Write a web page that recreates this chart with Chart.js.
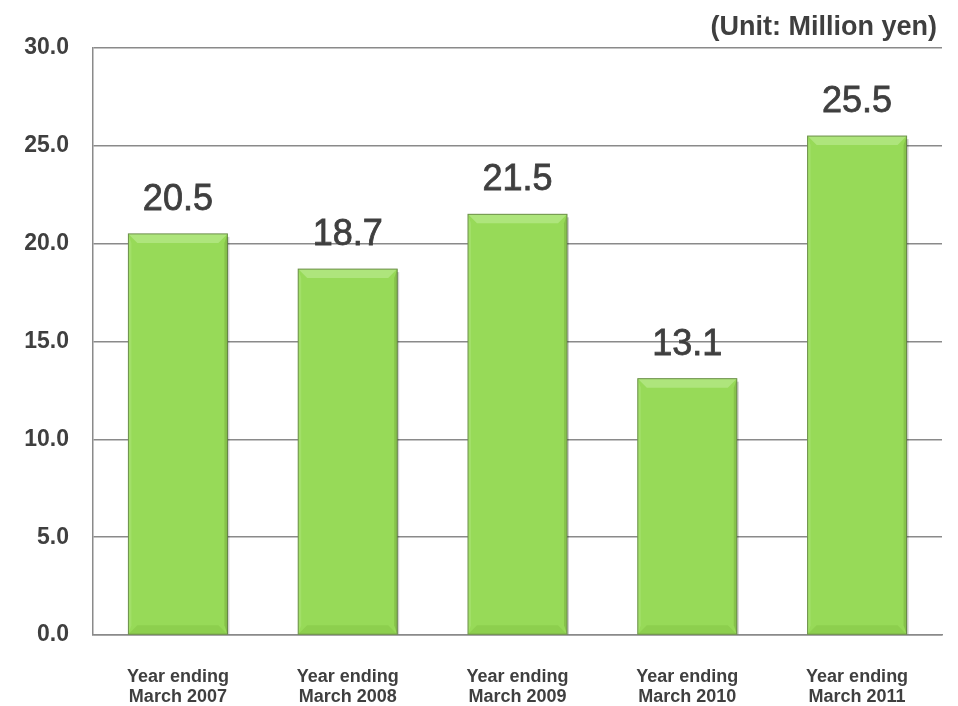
<!DOCTYPE html>
<html>
<head>
<meta charset="utf-8">
<script src="https://cdn.jsdelivr.net/npm/chart.js@4.4.0/dist/chart.umd.min.js"></script>
<style>
  html, body { margin: 0; padding: 0; background: #ffffff; }
  #wrap { position: relative; width: 958px; height: 706px; }
</style>
</head>
<body>
<div id="wrap"><canvas id="grafico" width="958" height="706"></canvas></div>
<script>
// dados do grafico
const categorias = [
    ["Year ending", "March 2007"],
    ["Year ending", "March 2008"],
    ["Year ending", "March 2009"],
    ["Year ending", "March 2010"],
    ["Year ending", "March 2011"]
];
const valores = [20.5, 18.7, 21.5, 13.1, 25.5];
const tickLabels = ["0.0", "5.0", "10.0", "15.0", "20.0", "25.0", "30.0"];
const unidade = "(Unit: Million yen)";

const corTexto = '#3f3f3f';

function trapezio(ctx, pts, cor) {
    ctx.beginPath();
    ctx.moveTo(pts[0][0], pts[0][1]);
    for (let i = 1; i < pts.length; i++) ctx.lineTo(pts[i][0], pts[i][1]);
    ctx.closePath();
    ctx.fillStyle = cor;
    ctx.fill();
}

// efeito chanfrado nas barras
const chanfroPlugin = {
    id: 'chanfro',
    afterDatasetsDraw(chart) {
        const ctx = chart.ctx;
        const meta = chart.getDatasetMeta(0);
        const b = 9;
        ctx.save();
        meta.data.forEach(function (bar) {
            const l = bar.x - bar.width / 2, r = bar.x + bar.width / 2;
            const t = bar.y, bt = bar.base;
            trapezio(ctx, [[l, t], [r, t], [r - b, t + b], [l + b, t + b]], '#aee57c');
            trapezio(ctx, [[l, bt], [r, bt], [r - b, bt - b], [l + b, bt - b]], '#8dcf4e');
            trapezio(ctx, [[l, t], [l + 3, t + b], [l + 3, bt - b], [l, bt]], '#a2df69');
            trapezio(ctx, [[r, t], [r - 3, t + b], [r - 3, bt - b], [r, bt]], '#86c24a');
            ctx.strokeStyle = '#6c8f4a';
            ctx.lineWidth = 1;
            ctx.strokeRect(l, t, r - l, bt - t);
            ctx.fillStyle = 'rgba(0,0,0,0.18)';
            ctx.fillRect(r, t + 3, 2, bt - t - 3);
        });
        ctx.restore();
    }
};

// rotulos de valor acima das barras + unidade
const rotulosPlugin = {
    id: 'rotulos',
    afterDatasetsDraw(chart) {
        const ctx = chart.ctx;
        const meta = chart.getDatasetMeta(0);
        ctx.save();
        ctx.fillStyle = corTexto;
        ctx.strokeStyle = corTexto;
        ctx.lineWidth = 0.8;
        ctx.font = '36px "Liberation Sans", Arial, sans-serif';
        ctx.textAlign = 'center';
        ctx.textBaseline = 'alphabetic';
        meta.data.forEach(function (bar, i) {
            const txt = valores[i].toFixed(1);
            ctx.fillText(txt, bar.x, bar.y - 24);
            ctx.strokeText(txt, bar.x, bar.y - 24);
        });
        ctx.font = 'bold 27px "Liberation Sans", Arial, sans-serif';
        ctx.textAlign = 'right';
        ctx.fillText(unidade, 937, 35);
        ctx.restore();
    }
};

new Chart(document.getElementById('grafico'), {
    type: 'bar',
    data: {
        labels: categorias,
        datasets: [{
            data: valores,
            backgroundColor: '#97da58',
            borderWidth: 0,
            categoryPercentage: 1,
            barPercentage: 0.583
        }]
    },
    options: {
        responsive: false,
        animation: false,
        layout: { padding: { top: 48, right: 16, left: 0, bottom: 0 } },
        plugins: {
            legend: { display: false },
            tooltip: { enabled: false }
        },
        scales: {
            x: {
                grid: { display: false },
                border: { display: true, color: '#8a8a8a', width: 1.5 },
                ticks: {
                    color: corTexto,
                    font: { family: '"Liberation Sans", Arial, sans-serif', size: 18, weight: 'bold', lineHeight: 1.1 },
                    padding: 24,
                    maxRotation: 0,
                    autoSkip: false
                },
                afterFit(scale) { scale.height = 71; }
            },
            y: {
                min: 0,
                max: 30,
                ticks: {
                    stepSize: 5,
                    color: corTexto,
                    padding: 24,
                    font: { family: '"Liberation Sans", Arial, sans-serif', size: 23, weight: 'bold' },
                    callback: function (v) { return tickLabels[Math.round(v / 5)]; }
                },
                grid: { color: '#8a8a8a', lineWidth: 1.5, drawTicks: false },
                border: { display: true, color: '#8a8a8a', width: 1.5 },
                afterFit(scale) { scale.width = 93; }
            }
        }
    },
    plugins: [chanfroPlugin, rotulosPlugin]
});
</script>
</body>
</html>
